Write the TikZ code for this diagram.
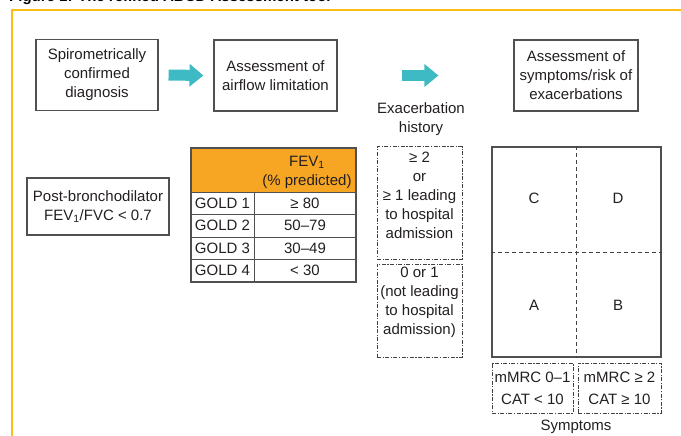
\documentclass[tikz,border=0pt]{standalone}
\usepackage{fontspec}
\setmainfont{Liberation Sans}
\usetikzlibrary{arrows.meta}

\definecolor{goldyellow}{RGB}{252,190,20}
\definecolor{arrowteal}{RGB}{62,186,196}
\definecolor{headorange}{RGB}{246,166,35}
\definecolor{inkgray}{RGB}{35,31,32}
\definecolor{linegray}{RGB}{80,80,80}

\begin{document}
\begin{tikzpicture}[x=1pt, y=-1pt,
	every node/.style={font=\fontsize{15}{19}\selectfont, text=inkgray, align=center, inner sep=0pt},
	box/.style={draw=linegray, line width=1.1pt, minimum height=71},
	dashdotbox/.style={draw=inkgray!85, line width=1pt, dash pattern=on 4pt off 1.5pt on 1.2pt off 1.5pt},
	fatarrow/.style={arrowteal, line width=11pt, -{Triangle[length=14pt 0 0, width=22pt 0 0]}},
	gridline/.style={inkgray!85, line width=0.9pt, dash pattern=on 4pt off 3pt}]
				\useasboundingbox (0,0) rectangle (681,436);

				% Caption and frame
				\node[anchor=base west, text=black, font=\bfseries\fontsize{15}{18}\selectfont] (caption) at (9,1.5) {Figure 1: The refined ABCD Assessment tool};
				\draw[goldyellow, line width=2pt] (12,440) -- (12,10) -- (690,10);

				% Top row boxes
				\node[box, minimum width=122] (diag) at (97,75) {Spirometrically\\confirmed\\diagnosis};
				\node[box, minimum width=123] (airflow) at (275.5,75.5) {Assessment of\\airflow limitation};
				\node[box, minimum width=124] (sympt) at (576,75.5) {Assessment of\\symptoms/risk of\\exacerbations};
				\node (exhist) at (421,119) {Exacerbation\\history};

				% Arrows
				\draw[fatarrow] ([xshift=10pt]diag.east) -- ([xshift=-10pt]airflow.west);
				\draw[fatarrow] ([xshift=64pt]airflow.east) -- ([xshift=-75pt]sympt.west);

				% Spirometry
				\node[box, minimum width=142, minimum height=57] (postbd) at (98,206.5) {Post-bronchodilator\\FEV\textsubscript{1}/FVC < 0.7};

				% GOLD table
				\fill[headorange] (191,148) rectangle (356,192);
				\foreach \y in {192,214,237,259}
					\draw[linegray, line width=0.8pt] (191,\y) -- (356,\y);
				\draw[linegray, line width=0.8pt] (254,192) -- (254,282);
				\draw[linegray, line width=1.1pt] (191,148) rectangle (356,282);
				\node (fevhead) at (307,172) {FEV\textsubscript{1}\\(\% predicted)};
				\foreach \g/\val/\y in {1/≥ 80/203, 2/50–79/225.5, 3/30–49/248, 4/< 30/270.5} {
					\node (gold\g) at (222.5,\y) {GOLD \g};
					\node (fev\g) at (305,\y) {\val};
				}

				% Exacerbation history
				\node[dashdotbox, minimum width=85, minimum height=112] (highrisk) at (419.5,203) {};
				\node (highrisktxt) at (419.5,195) {≥ 2\\or\\≥ 1 leading\\to hospital\\admission};
				\node[dashdotbox, minimum width=85, minimum height=93] (lowrisk) at (419.5,310.5) {};
				\node (lowrisktxt) at (419.5,302) {0 or 1\\(not leading\\to hospital\\admission)};

				% ABCD grid
				\node[draw=linegray, line width=1.1pt, minimum width=169, minimum height=210] (abcd) at (576.5,252) {};
				\draw[gridline] (abcd.north) -- (abcd.south);
				\draw[gridline] (abcd.west) -- (abcd.east);
				\node (grpC) at (534,198) {C};
				\node (grpD) at (618,198) {D};
				\node (grpA) at (534,305) {A};
				\node (grpB) at (618,305) {B};

				% Symptoms
				\node[dashdotbox, minimum width=81, minimum height=50, font=\fontsize{15}{22}\selectfont] (lowsym) at (532.5,388) {mMRC 0–1\\CAT < 10};
				\node[dashdotbox, minimum width=83, minimum height=50, font=\fontsize{15}{22}\selectfont] (highsym) at (619.5,388) {mMRC ≥ 2\\CAT ≥ 10};
				\node (symlabel) at (576,427) {Symptoms};

			\end{tikzpicture}
\end{document}
